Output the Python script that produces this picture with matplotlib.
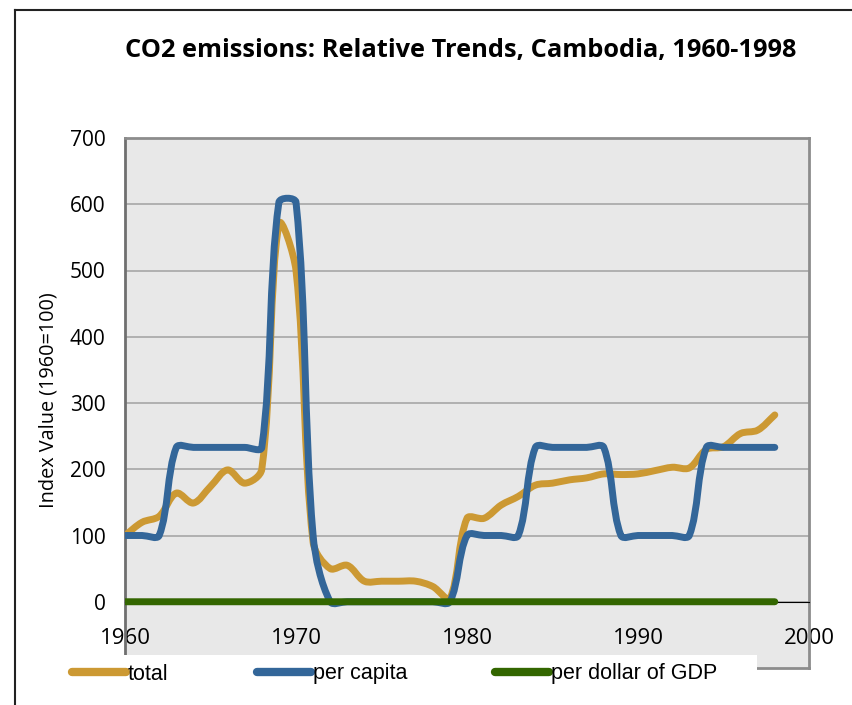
import matplotlib
matplotlib.use("Agg")
import matplotlib.pyplot as plt
from matplotlib.path import Path
from matplotlib.patches import PathPatch, Rectangle
from matplotlib.lines import Line2D

# dati (indice 1960=100)
years = [1960, 1961, 1962, 1963, 1964, 1965, 1966, 1967, 1968, 1969,
         1970, 1971, 1972, 1973, 1974, 1975, 1976, 1977, 1978, 1979,
         1980, 1981, 1982, 1983, 1984, 1985, 1986, 1987, 1988, 1989,
         1990, 1991, 1992, 1993, 1994, 1995, 1996, 1997, 1998]
total = [100, 120, 129, 164, 149, 174, 199, 179, 200, 570,
         500, 90, 50, 55, 31, 31, 31, 31, 23, 5,
         126, 126, 146, 159, 176, 179, 184, 187, 193, 192,
         193, 198, 203, 202, 230, 234, 254, 259, 282]
per_capita = [100, 100, 100, 233, 233, 233, 233, 233, 233, 603,
              603, 100, 0, 0, 0, 0, 0, 0, 0, 0,
              100, 100, 100, 100, 233, 233, 233, 233, 233, 100,
              100, 100, 100, 100, 233, 233, 233, 233, 233]
per_gdp = [0, 0, 0, 0, 0, 0, 0, 0, 0, 0,
           0, 0, 0, 0, 0, 0, 0, 0, 0, 0,
           0, 0, 0, 0, 0, 0, 0, 0, 0, 0,
           0, 0, 0, 0, 0, 0, 0, 0, 0]

series_names = ["total", "per capita", "per dollar of GDP"]
colors = ["#CC9933", "#336699", "#336600"]

W, H = 853, 705
SX, SY = 17.1, 0.663   # pixel per anno / per unita' (per le lunghezze a schermo)


def smooth_path(x, y, t=1/3):
    # linea "smussata" stile Excel: Bezier con tangenti pesate sulle lunghezze a schermo
    n = len(x)
    verts = [(x[0], y[0])]
    codes = [Path.MOVETO]

    def seglen(i, j):
        return ((x[j] - x[i]) * SX) ** 2 + ((y[j] - y[i]) * SY) ** 2

    outc, inc = [], []
    for i in range(n):
        ip = max(i - 1, 0)
        inx = min(i + 1, n - 1)
        dx, dy = x[inx] - x[ip], y[inx] - y[ip]
        lp = seglen(ip, i) ** 0.5
        ln = seglen(i, inx) ** 0.5
        s = lp + ln if lp + ln > 0 else 1
        outc.append((x[i] + dx * t * ln / s, y[i] + dy * t * ln / s))
        inc.append((x[i] - dx * t * lp / s, y[i] - dy * t * lp / s))
    for i in range(n - 1):
        verts += [outc[i], inc[i + 1], (x[i + 1], y[i + 1])]
        codes += [Path.CURVE4] * 3
    return Path(verts, codes)


fig = plt.figure(figsize=(8.53, 7.05), dpi=100)
ax = fig.add_axes([125 / W, 1 - 668 / H, (809 - 125) / W, (668 - 138) / H])
ax.set_facecolor("#E8E8E8")

for i, vals in enumerate([total, per_capita, per_gdp]):
    patch = PathPatch(smooth_path(years, vals), fill=False, edgecolor=colors[i],
                      lw=5, capstyle="round", joinstyle="round", zorder=3 + i)
    ax.add_patch(patch)

ax.set_xlim(1960, 2000)
ax.set_ylim(-100, 700)
ax.set_yticks(range(0, 701, 100))
ax.set_xticks(range(1960, 2001, 10))
ax.grid(axis="y", color="#A6A6A6", lw=1.2)
ax.set_axisbelow(True)

ax.spines["bottom"].set_position(("data", 0))
ax.spines["bottom"].set_color("black")
ax.spines["bottom"].set_linewidth(0.8)
ax.spines["left"].set_color("#6F6F6F")
ax.spines["left"].set_linewidth(2)
ax.spines["top"].set_color("#8C8C8C")
ax.spines["top"].set_linewidth(2)
ax.spines["right"].set_color("#8C8C8C")
ax.spines["right"].set_linewidth(2)
ax.axhline(-100, color="#8C8C8C", lw=2, clip_on=False, zorder=1)

ax.tick_params(axis="both", length=0)
ax.tick_params(axis="x", pad=19, labelsize=16)
ax.tick_params(axis="y", pad=14, labelsize=15)
for lab in ax.get_xticklabels() + ax.get_yticklabels():
    lab.set_fontfamily("Open Sans")
ax.set_ylabel("Index Value (1960=100)", fontsize=14.3, fontfamily="Open Sans")
ax.yaxis.set_label_coords(-0.097, 0.506)

fig.text(461 / W, 1 - 50 / H, "CO2 emissions: Relative Trends, Cambodia, 1960-1998",
         ha="center", va="center", fontsize=18.3, fontweight="bold", fontfamily="Open Sans")

# riquadro bianco della legenda sopra il fondo del grafico
fig.patches.append(Rectangle((40 / W, 0), (757 - 40) / W, 1 - 655 / H,
                             transform=fig.transFigure, facecolor="white",
                             edgecolor="none", zorder=5))

# cornice esterna
fig.lines.append(Line2D([15 / W, 15 / W], [0, 1 - 10 / H], transform=fig.transFigure,
                        color="#222222", lw=1.5))
fig.lines.append(Line2D([15 / W, 1], [1 - 10 / H, 1 - 10 / H], transform=fig.transFigure,
                        color="#222222", lw=1.5))

handles = [Line2D([], [], color=c, lw=6, solid_capstyle="round") for c in colors]
leg = fig.legend(handles, series_names, loc="center left",
                 bbox_to_anchor=(72 / W, 1 - 674 / H), ncol=3, frameon=False,
                 handlelength=2.5, handletextpad=0.1,
                 columnspacing=4.1, borderpad=0, borderaxespad=0,
                 prop={"family": "Liberation Sans", "size": 15.5})
leg.set_zorder(6)

fig.savefig("out.png", dpi=100)
